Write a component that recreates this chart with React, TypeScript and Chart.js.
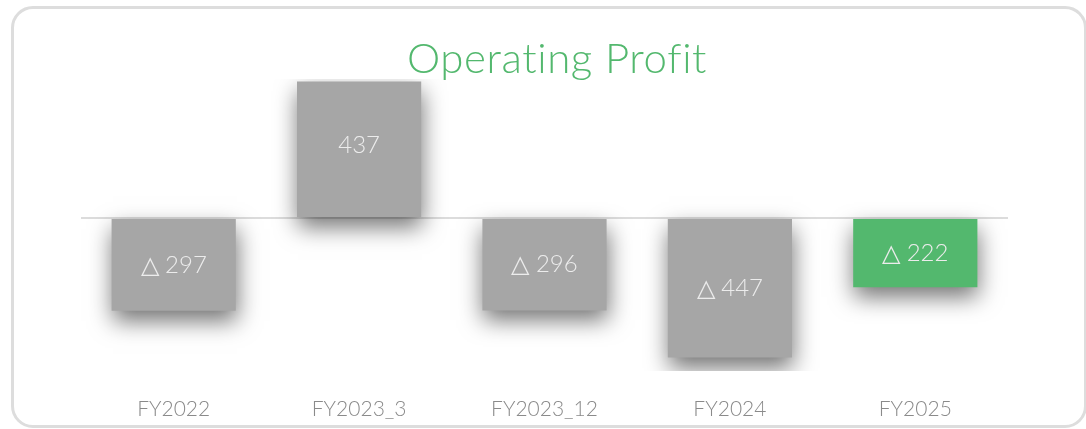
import React, { useEffect, useRef } from "react";
import { Chart, registerables } from "chart.js";

Chart.register(...registerables);

const categories = ["FY2022", "FY2023_3", "FY2023_12", "FY2024", "FY2025"];
const values = [-297, 437, -296, -447, -222];
const barColors = ["#a6a6a6", "#a6a6a6", "#a6a6a6", "#a6a6a6", "#53b86e"];
const titleText = "Operating Profit";

const FONT = "Lato, 'Source Sans Pro', 'Noto Sans', sans-serif";

const shadowPlugin = {
  id: "barShadow",
  beforeDatasetDraw(chart: any) {
    const ctx = chart.ctx;
    ctx.save();
    ctx.shadowColor = "rgba(0,0,0,0.55)";
    ctx.shadowBlur = 22;
    ctx.shadowOffsetX = 1;
    ctx.shadowOffsetY = 10;
  },
  afterDatasetDraw(chart: any) {
    chart.ctx.restore();
  },
};

const labelPlugin = {
  id: "barLabels",
  afterDatasetsDraw(chart: any) {
    const ctx = chart.ctx;
    const meta = chart.getDatasetMeta(0);
    ctx.save();
    ctx.fillStyle = "#ececec";
    ctx.font = `300 24px ${FONT}`;
    ctx.textAlign = "center";
    ctx.textBaseline = "middle";
    meta.data.forEach((bar: any, i: number) => {
      const v = values[i];
      const text = v < 0 ? `△ ${Math.abs(v)}` : `${v}`;
      const y = (bar.y + bar.base) / 2 - (v > 0 ? 4 : 0);
      ctx.fillText(text, bar.x, y);
    });
    ctx.restore();
  },
};

export default function App() {
  const canvasRef = useRef<HTMLCanvasElement | null>(null);

  useEffect(() => {
    if (!canvasRef.current) return;
    const chart = new Chart(canvasRef.current, {
      type: "bar",
      data: {
        labels: categories,
        datasets: [
          {
            data: values,
            backgroundColor: barColors,
            borderWidth: 0,
            barPercentage: 0.67,
            categoryPercentage: 1,
          },
        ],
      },
      options: {
        animation: false,
        responsive: false,
        maintainAspectRatio: false,
        layout: { padding: { left: 81, right: 78, top: 79, bottom: 8 } },
        plugins: {
          legend: { display: false },
          title: { display: false },
          tooltip: { enabled: false },
        },
        scales: {
          x: {
            grid: { display: false, drawTicks: false },
            border: { display: false },
            ticks: {
              color: "#8a8a8a",
              font: { family: FONT, size: 21, weight: "300" as any },
              padding: 26,
              maxRotation: 0,
            },
            afterFit: (scale: any) => {
              scale.height = 50;
            },
          },
          y: {
            min: -490,
            max: 445,
            display: true,
            border: { display: false },
            ticks: { display: false, stepSize: 5 },
            grid: {
              drawTicks: false,
              color: (c: any) => (c.tick && c.tick.value === 0 ? "#dcdcdc" : "rgba(0,0,0,0)"),
              lineWidth: 2,
            },
          },
        },
      },
      plugins: [shadowPlugin, labelPlugin],
    });
    return () => chart.destroy();
  }, []);

  return (
    <div style={{ position: "fixed", left: 0, top: 0, width: 1086, height: 429, background: "#fff", overflow: "hidden" }}>
      <div
        style={{
          position: "absolute",
          left: 11,
          top: 6,
          width: 1070,
          height: 416,
          border: "3px solid #dddddd",
          borderRadius: 22,
        }}
      />
      <canvas
        ref={canvasRef}
        width={1086}
        height={429}
        style={{ position: "absolute", left: 0, top: 0, width: 1086, height: 429 }}
      />
      <div
        style={{
          position: "absolute",
          left: 0,
          width: 1114,
          top: 32,
          textAlign: "center",
          color: "#53b86e",
          fontFamily: FONT,
          fontWeight: 300,
          fontSize: 42,
          letterSpacing: "0.6px",
          lineHeight: "50px",
          whiteSpace: "nowrap",
        }}
      >
        {titleText}
      </div>
    </div>
  );
}
